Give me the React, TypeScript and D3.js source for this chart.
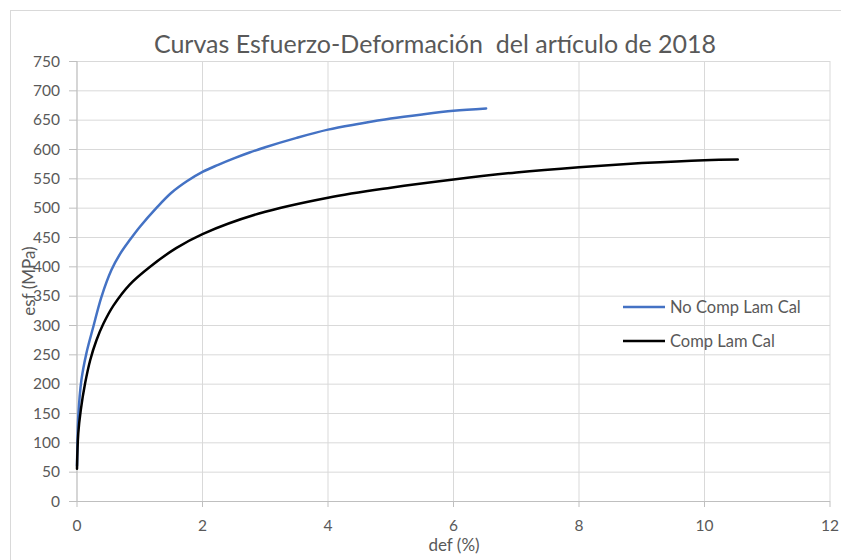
import React from "react";
import * as d3 from "d3";

const title = "Curvas Esfuerzo-Deformación  del artículo de 2018";
const xTitle = "def (%)";
const yTitle = "esf (MPa)";
const seriesNames = ["No Comp Lam Cal", "Comp Lam Cal"];
const seriesColors = ["#4472C4", "#000000"];

const xTicks = [0, 2, 4, 6, 8, 10, 12];
const yTicks = [0, 50, 100, 150, 200, 250, 300, 350, 400, 450, 500, 550, 600, 650, 700, 750];

// No Comp Lam Cal
const noCompDef = [0, 0.01, 0.02, 0.07, 0.15, 0.26, 0.39, 0.55, 0.68, 0.85, 1.0, 1.27, 1.5, 1.75, 2.0, 2.25, 2.5, 2.75, 3.0, 3.5, 4.0, 4.5, 5.0, 5.5, 6.0, 6.52];
const noCompEsf = [60, 110, 144, 206, 252, 297, 348, 394, 420, 446, 467, 500, 525, 545, 561, 573, 584, 594, 603, 619, 633, 643, 652, 659, 665, 669];

// Comp Lam Cal
const compDef = [0, 0.02, 0.06, 0.13, 0.21, 0.31, 0.42, 0.58, 0.84, 1.16, 1.58, 2.0, 2.9, 4.0, 5.0, 6.0, 7.0, 8.0, 9.0, 10.0, 10.53];
const compEsf = [55, 115, 155, 201, 240, 274, 302, 333, 369, 399, 431, 455, 490, 517, 534, 548, 560, 569, 576, 581, 582];

const W = 841;
const H = 560;
const left = 77;
const right = 830;
const top = 61;
const bottom = 501;
const font = "Lato, 'Open Sans', sans-serif";
const textColor = "#595959";

export default function App() {
  const x = d3.scaleLinear().domain([0, 12]).range([left, right]);
  const y = d3.scaleLinear().domain([0, 750]).range([bottom, top]);

  const line = d3
    .line<[number, number]>()
    .x((d) => x(d[0]))
    .y((d) => y(d[1]))
    .curve(d3.curveCatmullRom.alpha(0.5));

  const series = [
    noCompDef.map((d, i) => [d, noCompEsf[i]] as [number, number]),
    compDef.map((d, i) => [d, compEsf[i]] as [number, number]),
  ];

  return (
    <svg
      width={W}
      height={H}
      style={{ position: "absolute", left: 0, top: 0, background: "#fff" }}
    >
      <rect x={10.5} y={10.5} width={W + 20} height={H + 20} fill="#fff" stroke="#d9d9d9" strokeWidth={1} />
      {/* grid */}
      {yTicks.map((t) => (
        <line key={"gy" + t} x1={left} x2={right} y1={y(t) + 0.5} y2={y(t) + 0.5} stroke="#d9d9d9" strokeWidth={1} />
      ))}
      {xTicks.map((t) => (
        <line key={"gx" + t} x1={x(t)} x2={x(t)} y1={top} y2={bottom} stroke="#d9d9d9" strokeWidth={1} />
      ))}
      {/* axes */}
      <line x1={left} x2={left} y1={top} y2={bottom} stroke="#bfbfbf" strokeWidth={1} />
      <line x1={left} x2={right} y1={bottom + 0.5} y2={bottom + 0.5} stroke="#bfbfbf" strokeWidth={1} />
      {yTicks.map((t) => (
        <line key={"ty" + t} x1={left - 8} x2={left} y1={y(t) + 0.5} y2={y(t) + 0.5} stroke="#bfbfbf" strokeWidth={1} />
      ))}
      {xTicks.map((t) => (
        <line key={"tx" + t} x1={x(t)} x2={x(t)} y1={bottom} y2={bottom + 6} stroke="#bfbfbf" strokeWidth={1} />
      ))}
      {/* tick labels */}
      {yTicks.map((t) => (
        <text key={"ly" + t} x={60} y={y(t) + 5.5} textAnchor="end" fontFamily={font} fontSize={15.5} fill={textColor}>
          {t}
        </text>
      ))}
      {xTicks.map((t) => (
        <text key={"lx" + t} x={x(t)} y={531} textAnchor="middle" fontFamily={font} fontSize={15.5} fill={textColor}>
          {t}
        </text>
      ))}
      {/* series */}
      {series.map((s, i) => (
        <path key={"s" + i} d={line(s) || ""} fill="none" stroke={seriesColors[i]} strokeWidth={2.5} strokeLinejoin="round" strokeLinecap="round" />
      ))}
      {/* title */}
      <text x={435} y={53} textAnchor="middle" fontFamily={font} fontSize={25} fill={textColor} style={{ whiteSpace: "pre" }}>
        {title}
      </text>
      <text x={454} y={551} textAnchor="middle" fontFamily={font} fontSize={17} fill={textColor}>
        {xTitle}
      </text>
      <text transform={`translate(35,${(top + bottom) / 2}) rotate(-90)`} textAnchor="middle" fontFamily={font} fontSize={17} fill={textColor}>
        {yTitle}
      </text>
      {/* legend */}
      {seriesNames.map((n, i) => (
        <g key={"lg" + i} transform={`translate(623,${307 + i * 34})`}>
          <line x1={0} x2={42} y1={0} y2={0} stroke={seriesColors[i]} strokeWidth={2.5} />
          <text x={47} y={5.5} fontFamily={font} fontSize={16.5} fill={textColor}>
            {n}
          </text>
        </g>
      ))}
    </svg>
  );
}
